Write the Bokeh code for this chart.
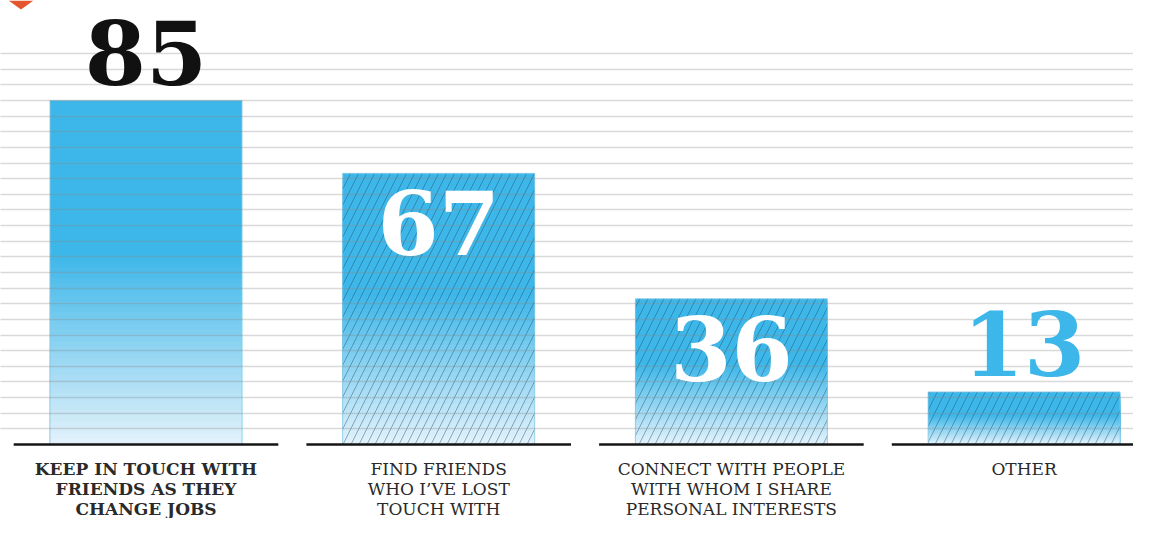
from bokeh.plotting import figure
from bokeh.models import ColumnDataSource, FixedTicker, LabelSet, PolyAnnotation, Range1d
from bokeh.core.properties import value
from bokeh.embed import file_html
from bokeh.resources import INLINE

# ---- data ----
CATEGORIES = [
    "KEEP IN TOUCH WITH\nFRIENDS AS THEY\nCHANGE JOBS",
    "FIND FRIENDS\nWHO I\u2019VE LOST\nTOUCH WITH",
    "CONNECT WITH PEOPLE\nWITH WHOM I SHARE\nPERSONAL INTERESTS",
    "OTHER",
]
VALUES = [85, 67, 36, 13]
VALUE_LABELS = ["85", "67", "36", "13"]

# ---- styles ----
LABEL_INSIDE = [False, True, True, False]
NUMBER_COLORS = ["#111111", "#ffffff", "#ffffff", "#3db7e9"]
HATCHED = [False, True, True, True]
CAT_STYLE = ["bold", "normal", "normal", "normal"]
TOP_BLUE = (61, 183, 233)
BOTTOM_BLUE = (228, 242, 251)
SOLID_FRACTION = 0.45
N_SLICES = 60
BAR_W = 0.656
BASE_HALF = 0.452
GRID_STEP = 85 / 22

W, H = 1133, 518
p = figure(width=W, height=H, output_backend="svg", toolbar_location=None,
           x_range=Range1d(-0.4971, 3.3738), y_range=Range1d(-18.285, 109.71),
           min_border=0, outline_line_color=None, background_fill_color="white",
           border_fill_color="white")
p.axis.visible = False
p.xgrid.visible = False
p.ygrid.ticker = FixedTicker(ticks=[k * GRID_STEP for k in range(1, 26)])
p.ygrid.grid_line_color = "#888888"
p.ygrid.grid_line_alpha = 0.32
p.ygrid.grid_line_width = 1.4
p.ygrid.level = "guide"

xs = list(range(len(VALUES)))

def mix(t):
    c = [round(BOTTOM_BLUE[j] + (TOP_BLUE[j] - BOTTOM_BLUE[j]) * t) for j in range(3)]
    return "#%02x%02x%02x" % tuple(c)

# gradient bars: stacked from full height down, each smaller one on top
gx, gtop, gcol = [], [], []
for k in range(N_SLICES - 1, -1, -1):
    f = (k + 0.5) / N_SLICES
    t = min(1.0, f / (1 - SOLID_FRACTION))
    for i, v in enumerate(VALUES):
        gx.append(xs[i])
        gtop.append(v * (k + 1) / N_SLICES)
        gcol.append(mix(t))
p.vbar(x=gx, top=gtop, bottom=0, width=BAR_W, fill_color=gcol, line_color=None)

# hatch overlay + outline
hx = [xs[i] for i in range(len(VALUES)) if HATCHED[i]]
hv = [VALUES[i] for i in range(len(VALUES)) if HATCHED[i]]
p.vbar(x=hx, top=hv, bottom=0, width=BAR_W, fill_color=None, line_color=None,
       hatch_pattern="/", hatch_color="#1d4f6b", hatch_alpha=0.5,
       hatch_scale=16, hatch_weight=0.9)
p.vbar(x=xs, top=VALUES, bottom=0, width=BAR_W, fill_color=None,
       line_color="#8cc8e4", line_width=0.8)

# baselines
p.segment(x0=[x - BASE_HALF for x in xs], y0=[0] * len(xs),
          x1=[x + BASE_HALF for x in xs], y1=[0] * len(xs),
          line_color="#151515", line_width=2.6)

# value numbers
num_src = ColumnDataSource(dict(
    x=xs, y=VALUES, text=VALUE_LABELS, color=NUMBER_COLORS,
    yoff=[-82 if ins else 16 for ins in LABEL_INSIDE]))
p.add_layout(LabelSet(x="x", y="y", text="text", source=num_src, y_offset="yoff",
                      text_color="color", text_font=value("DejaVu Serif"),
                      text_font_style="bold", text_font_size="88px",
                      text_align="center", text_baseline="alphabetic"))

# category labels
cat_src = ColumnDataSource(dict(x=xs, y=[0] * len(xs), text=CATEGORIES, style=CAT_STYLE))
p.text(x="x", y="y", text="text", source=cat_src, y_offset=14,
       text_font=value("DejaVu Serif"), text_font_size="17px",
       text_font_style="style", text_color="#2a2a2a",
       text_align="center", text_baseline="top", text_line_height=1.0)

# decorative orange corner marker (lower half of a diamond cut by the top edge)
p.add_layout(PolyAnnotation(xs=[8, 33, 20.5], ys=[H, H, H - 9],
                            xs_units="screen", ys_units="screen",
                            fill_color="#e4572e", fill_alpha=1.0, line_color=None))

open("out.html", "w").write(file_html(p, INLINE))
